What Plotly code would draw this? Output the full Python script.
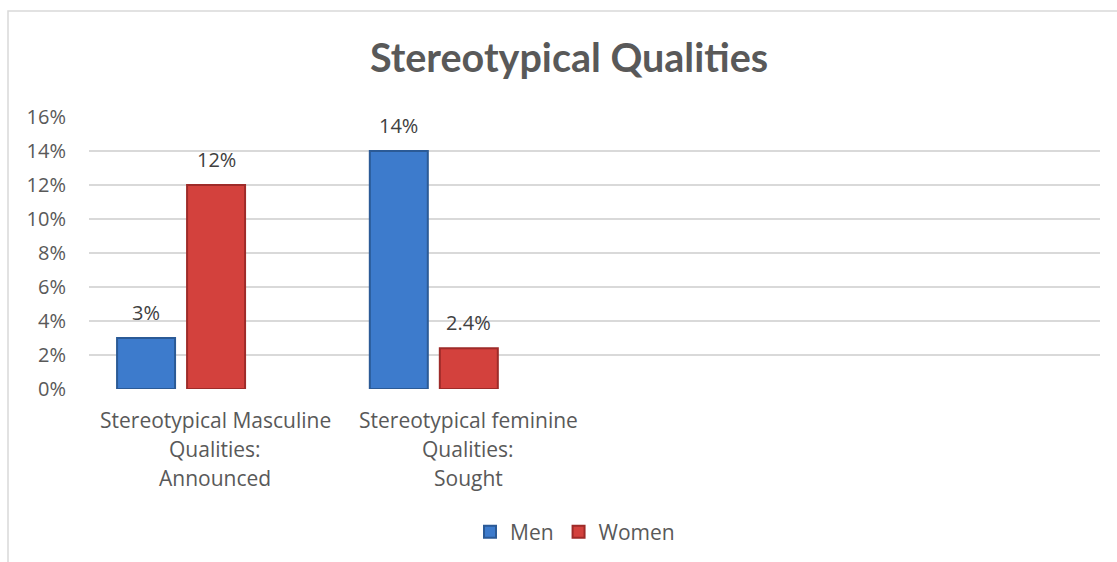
import plotly.graph_objects as go

# ---- data ----
categories = ["Stereotypical Masculine<br>Qualities:<br>Announced",
              "Stereotypical feminine<br>Qualities:<br>Sought"]
men = [0.03, 0.14]
women = [0.12, 0.024]
men_labels = ["3%", "14%"]
women_labels = ["12%", "2.4%"]
y_ticks = [0, 0.02, 0.04, 0.06, 0.08, 0.10, 0.12, 0.14, 0.16]
y_ticklabels = ["0%", "2%", "4%", "6%", "8%", "10%", "12%", "14%", "16%"]
n_slots = 4  # category slots on the axis (two are empty)

# ---- style ----
W, H = 1117, 562
L, R, T, B = 89, 17, 117, 173
BAR_W = 0.2295
OFF_MEN = -0.389
OFF_WOMEN = -0.112
BLUE, BLUE_EDGE = "#3d7bcc", "#2b5a96"
RED, RED_EDGE = "#d3413d", "#9e2b29"
TXT = "#595959"
FONT = "Open Sans"
FS = 20

xs = list(range(len(categories)))

fig = go.Figure()
fig.add_trace(go.Bar(
    x=xs, y=men, name="Men", width=BAR_W, offset=OFF_MEN,
    marker=dict(color=BLUE, line=dict(color=BLUE_EDGE, width=2)),
))
fig.add_trace(go.Bar(
    x=xs, y=women, name="Women", width=BAR_W, offset=OFF_WOMEN,
    marker=dict(color=RED, line=dict(color=RED_EDGE, width=2)),
))

annotations = []
for i in xs:
    for val, lab, off in ((men[i], men_labels[i], OFF_MEN), (women[i], women_labels[i], OFF_WOMEN)):
        annotations.append(dict(
            x=i + off + BAR_W / 2, y=val, xref="x", yref="y", text=lab,
            showarrow=False, yanchor="middle", yshift=26,
            font=dict(family=FONT, size=FS, color="#404040"),
        ))
    for j, line in enumerate(categories[i].split("<br>")):
        annotations.append(dict(
            x=i, y=0, xref="x", yref="y", text=line, showarrow=False,
            yanchor="middle", yshift=-31 - 29 * j,
            font=dict(family=FONT, size=21, color=TXT),
        ))

fig.update_layout(
    width=W, height=H,
    margin=dict(l=L, r=R, t=T, b=B, autoexpand=False),
    paper_bgcolor="white", plot_bgcolor="white",
    barmode="overlay",
    title=dict(text="<b>Stereotypical Qualities</b>", x=569 / W, y=1 - 58 / H,
               xanchor="center", yanchor="middle",
               font=dict(family="Lato", size=39.5, color=TXT)),
    xaxis=dict(range=[-0.5, n_slots - 0.5], showticklabels=False, showgrid=False,
               zeroline=False, showline=False, fixedrange=True),
    yaxis=dict(range=[0, 0.16], tickvals=y_ticks, ticktext=y_ticklabels,
               showgrid=True, gridcolor="#d9d9d9", gridwidth=1.5,
               zeroline=False, showline=False, ticks="", ticklabelstandoff=22,
               tickfont=dict(family=FONT, size=FS, color=TXT)),
    legend=dict(orientation="h", x=(575 - L) / (W - L - R), y=(H - B - 532) / (H - T - B),
                xanchor="center", yanchor="middle",
                font=dict(family=FONT, size=21, color=TXT), itemwidth=30),
    annotations=annotations,
    showlegend=True,
)

# chart-area border (light gray), extends past the right and bottom edges
pw, ph = W - L - R, H - T - B
fig.add_shape(type="rect", xref="paper", yref="paper",
              x0=(8 - L) / pw, x1=(1126 - L) / pw,
              y0=-1.2, y1=1 + (T - 11) / ph,
              line=dict(color="#d9d9d9", width=1.5), fillcolor="rgba(0,0,0,0)", layer="below")

fig.write_html("out.html", config={"displayModeBar": False},
               post_script="document.body.style.margin='0';document.body.style.overflow='hidden';")
